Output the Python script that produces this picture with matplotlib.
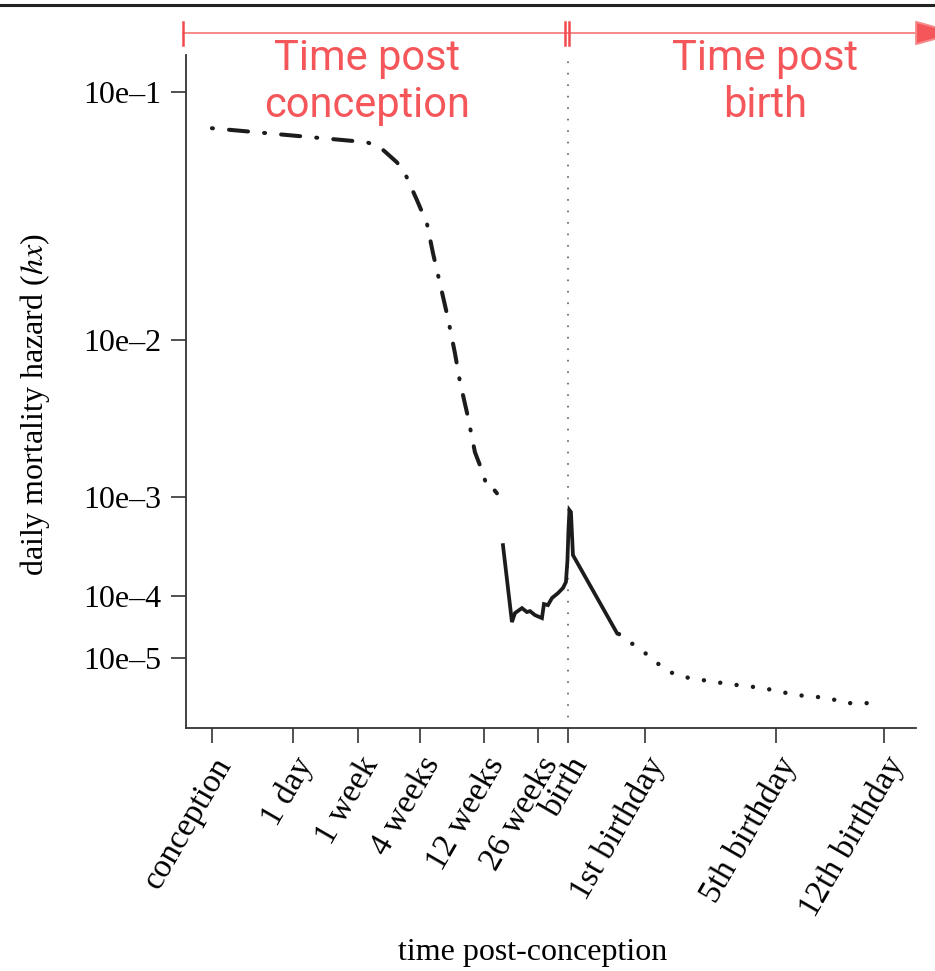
import numpy as np
import matplotlib
matplotlib.use("Agg")
import matplotlib.pyplot as plt
from matplotlib.lines import Line2D
from matplotlib.patches import FancyArrowPatch

plt.rcParams['font.family'] = ['Liberation Serif', 'DejaVu Serif']
plt.rcParams['mathtext.fontset'] = 'stix'

# x axis: days post conception, tick marks at the milestones
TICK_DAYS = [0, 1, 7, 28, 84, 182, 266, 631, 2092, 4649]
TICK_LABELS = ["conception", "1 day", "1 week", "4 weeks", "12 weeks", "26 weeks",
               "birth", "1st birthday", "5th birthday", "12th birthday"]
# relative spacing of the milestones along the axis (piecewise scale)
TICK_SLOTS = [0, 81, 146, 208, 272, 326, 356, 433, 564, 672]

Y_TICKS = [1e-1, 1e-2, 1e-3, 1e-4, 1e-5]
Y_LABELS = ["10e\u20131", "10e\u20132", "10e\u20133", "10e\u20134", "10e\u20135"]

# embryonic / early fetal hazard (dash-dot)
early_days = [0, 10.0, 14.5, 20.2, 22.9, 27.0, 34.1, 39.4, 45.5, 52.5, 58.6,
              63.0, 70.0, 76.1, 80.5, 85.8, 89.4, 98.5, 107.6]
early_hx = [0.076, 0.068, 0.0653, 0.0577, 0.0527, 0.0417, 0.0338, 0.0255, 0.0188,
            0.0129, 0.0086, 0.0060, 0.0037, 0.00217, 0.00175, 0.00136, 0.00120,
            0.00120, 0.00107]

# late fetal + infant hazard (solid)
late_days = [118.5, 134.8, 140.3, 153.0, 162.0, 167.5, 176.6, 193.2, 198.8, 210.0,
             221.2, 238.0, 252.0, 260.4, 264.6, 268.4, 273.1, 280.2, 289.7, 498.3]
late_hx = [3.71e-4, 4.29e-5, 5.82e-5, 6.84e-5, 6.02e-5, 6.21e-5, 5.44e-5, 4.92e-5,
           7.77e-5, 7.52e-5, 9.33e-5, 1.08e-4, 1.25e-4, 1.48e-4, 2.61e-4, 5.16e-4,
           7.77e-4, 7.47e-4, 2.94e-4, 2.87e-5]

# childhood hazard (dotted)
child_days = [507.7, 709, 843, 1010, 1200, 1568, 1947, 2566, 3347, 3726, 4507]
child_hx = [2.76e-5, 1.0e-5, 5.8e-6, 3.97e-6, 3.34e-6, 2.47e-6, 1.92e-6, 1.19e-6,
            9.5e-7, 6.4e-7, 6.4e-7]

RED = '#F4565A'
RED_LINE = '#F68A8A'
RED_BAR = '#F24B4E'
INK = '#1c1c1c'


def x_fwd(d):
    d = np.asarray(d, dtype=float)
    out = np.interp(d, TICK_DAYS, TICK_SLOTS)
    lo_slope = (TICK_SLOTS[1] - TICK_SLOTS[0]) / (TICK_DAYS[1] - TICK_DAYS[0])
    hi_slope = (TICK_SLOTS[-1] - TICK_SLOTS[-2]) / (TICK_DAYS[-1] - TICK_DAYS[-2])
    out = np.where(d < TICK_DAYS[0], TICK_SLOTS[0] + (d - TICK_DAYS[0]) * lo_slope, out)
    out = np.where(d > TICK_DAYS[-1], TICK_SLOTS[-1] + (d - TICK_DAYS[-1]) * hi_slope, out)
    return out


def x_inv(s):
    s = np.asarray(s, dtype=float)
    out = np.interp(s, TICK_SLOTS, TICK_DAYS)
    lo_slope = (TICK_DAYS[1] - TICK_DAYS[0]) / (TICK_SLOTS[1] - TICK_SLOTS[0])
    hi_slope = (TICK_DAYS[-1] - TICK_DAYS[-2]) / (TICK_SLOTS[-1] - TICK_SLOTS[-2])
    out = np.where(s < TICK_SLOTS[0], TICK_DAYS[0] + (s - TICK_SLOTS[0]) * lo_slope, out)
    out = np.where(s > TICK_SLOTS[-1], TICK_DAYS[-1] + (s - TICK_SLOTS[-1]) * hi_slope, out)
    return out


def y_fwd(v):
    return np.power(np.clip(np.asarray(v, dtype=float), 0, None), 0.2)


def y_inv(v):
    return np.power(np.asarray(v, dtype=float), 5)


W, H = 935, 971
fig = plt.figure(figsize=(W / 100, H / 100), dpi=100)
ax = fig.add_axes([186 / W, 1 - 728 / H, (916 - 186) / W, (728 - 55) / H])

ax.set_xscale('function', functions=(x_fwd, x_inv))
ax.set_yscale('function', functions=(y_fwd, y_inv))
ax.set_xlim(-0.32, 5407)
ax.set_ylim(4.8e-8, 0.131)

ax.axvline(266, color='#707070', lw=1.5, linestyle=(0, (0.01, 5.5)),
           dash_capstyle='round')

ax.plot(early_days, early_hx, color=INK, lw=2.9,
        linestyle=(0, (0.25, 4.0, 4.75, 4.0)), dash_capstyle='round')
ax.plot(late_days, late_hx, color=INK, lw=2.7, solid_joinstyle='miter')
ax.plot(child_days, child_hx, color=INK, lw=3.2,
        linestyle=(0, (0.01, 3.7)), dash_capstyle='round')

ax.set_xticks(TICK_DAYS)
ax.set_xticklabels(TICK_LABELS, rotation=60, ha='right', rotation_mode='anchor')
ax.set_yticks(Y_TICKS)
ax.set_yticklabels(Y_LABELS)
ax.minorticks_off()
ax.tick_params(axis='both', labelsize=23, length=11, width=1.2, color='#333333')
ax.tick_params(axis='x', labelsize=24, pad=6)
ax.tick_params(axis='y', pad=7)

for side in ('top', 'right'):
    ax.spines[side].set_visible(False)
for side in ('left', 'bottom'):
    ax.spines[side].set_linewidth(1.3)
    ax.spines[side].set_color('#333333')

fig.text(533 / W, 1 - 952 / H, "time post-conception", ha='center', va='center',
         fontsize=23)
fig.text(35 / W, 1 - 405 / H, "daily mortality hazard ($\\it{hx}$)", ha='center',
         va='center', rotation=90, fontsize=23)


def fx(x):
    return x / W


def fy(y):
    return 1 - y / H


# top border rule
fig.add_artist(Line2D([0, 1], [fy(5), fy(5)], color='#222222', lw=2.2,
                      transform=fig.transFigure))

# red time arrow with bars
arrow = FancyArrowPatch((fx(183), fy(33)), (fx(960), fy(33)),
                        arrowstyle='-|>,head_length=1.45,head_width=0.4',
                        mutation_scale=20, color=RED_LINE, lw=1.4,
                        shrinkA=0, shrinkB=0, transform=fig.transFigure)
arrow.set_facecolor(RED)
arrow.set_edgecolor(RED_LINE)
fig.add_artist(arrow)
for bx in (183, 565, 569):
    fig.add_artist(Line2D([fx(bx), fx(bx)], [fy(22), fy(45)], color=RED_BAR,
                          lw=1.8, transform=fig.transFigure))

fig.text(fx(367), fy(82), "Time post\nconception", ha='center', va='center',
         fontsize=30, color=RED, family=['Roboto', 'DejaVu Sans'], linespacing=1.2)
fig.text(fx(765), fy(82), "Time post\nbirth", ha='center', va='center',
         fontsize=30, color=RED, family=['Roboto', 'DejaVu Sans'], linespacing=1.2)

fig.savefig("out.png", dpi=100)
